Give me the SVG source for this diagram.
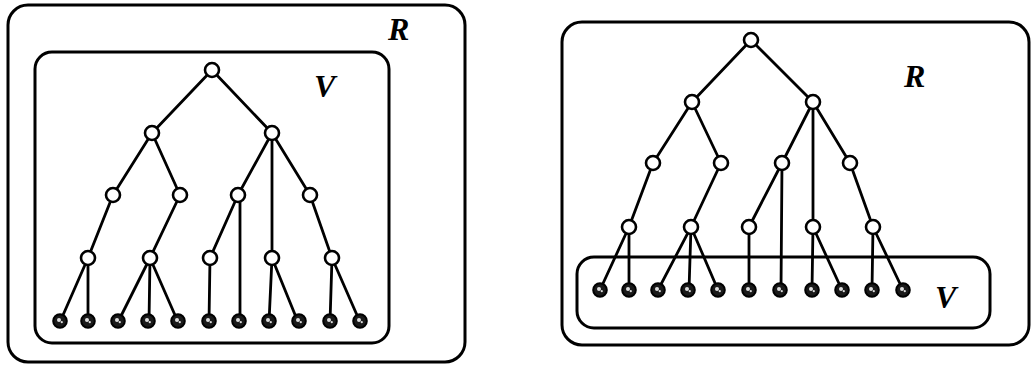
<svg xmlns="http://www.w3.org/2000/svg" width="1032" height="367" viewBox="0 0 1032 367">
  <style>
    .box { fill: none; stroke: #000; stroke-width: 3; }
    .edge { stroke: #000; stroke-width: 2.8; stroke-linecap: round; }
    .node { fill: #fff; stroke: #000; stroke-width: 2.6; }
    .leaf { fill: #1a1a1a; stroke: #000; stroke-width: 2; }
    .speck { fill: #ddd; }
    .lbl { font-family: "Liberation Serif", "Times New Roman", serif; font-style: italic; font-weight: bold; font-size: 32px; fill: #000; }
  </style>
  <defs>
    <g id="leafGlyph">
      <circle class="leaf" cx="0" cy="0" r="6.8"/>
      <circle class="speck" cx="-1" cy="-1" r="2"/>
      <circle class="speck" cx="1.8" cy="1.2" r="1.1"/>
    </g>
  </defs>

  <!-- Left figure: V encloses the whole tree -->
  <g id="left-R"><rect class="box" x="8" y="5" width="457" height="357" rx="20"/><text class="lbl" x="388" y="40">R</text></g>
  <g id="left-V"><rect class="box" x="35" y="52" width="354" height="291" rx="17"/><text class="lbl" x="314" y="97">V</text></g>

  <g id="left-edges">
    <line class="edge" x1="212" y1="70" x2="152" y2="133"/>
    <line class="edge" x1="212" y1="70" x2="272" y2="133"/>
    <line class="edge" x1="152" y1="133" x2="113" y2="195"/>
    <line class="edge" x1="152" y1="133" x2="180" y2="195"/>
    <line class="edge" x1="272" y1="133" x2="238" y2="195"/>
    <line class="edge" x1="272" y1="133" x2="272" y2="258"/>
    <line class="edge" x1="272" y1="133" x2="310" y2="195"/>
    <line class="edge" x1="113" y1="195" x2="88" y2="258"/>
    <line class="edge" x1="180" y1="195" x2="150" y2="258"/>
    <line class="edge" x1="238" y1="195" x2="210" y2="258"/>
    <line class="edge" x1="240" y1="195" x2="240" y2="322"/>
    <line class="edge" x1="310" y1="195" x2="332" y2="258"/>
    <line class="edge" x1="88" y1="258" x2="60" y2="322"/>
    <line class="edge" x1="88" y1="258" x2="88" y2="322"/>
    <line class="edge" x1="150" y1="258" x2="118" y2="322"/>
    <line class="edge" x1="150" y1="258" x2="149" y2="322"/>
    <line class="edge" x1="150" y1="258" x2="178" y2="322"/>
    <line class="edge" x1="210" y1="258" x2="209" y2="322"/>
    <line class="edge" x1="272" y1="258" x2="269" y2="322"/>
    <line class="edge" x1="272" y1="258" x2="298" y2="322"/>
    <line class="edge" x1="332" y1="258" x2="330" y2="322"/>
    <line class="edge" x1="332" y1="258" x2="360" y2="322"/>
  </g>

  <g id="left-nodes">
    <circle class="node" cx="212" cy="70" r="7"/>
    <circle class="node" cx="152" cy="133" r="7"/>
    <circle class="node" cx="272" cy="133" r="7"/>
    <circle class="node" cx="113" cy="195" r="7"/>
    <circle class="node" cx="180" cy="195" r="7"/>
    <circle class="node" cx="238" cy="195" r="7"/>
    <circle class="node" cx="310" cy="195" r="7"/>
    <circle class="node" cx="88" cy="258" r="7"/>
    <circle class="node" cx="150" cy="258" r="7"/>
    <circle class="node" cx="210" cy="258" r="7"/>
    <circle class="node" cx="272" cy="258" r="7"/>
    <circle class="node" cx="332" cy="258" r="7"/>
  </g>
  <g id="left-leaves">
    <use href="#leafGlyph" x="60" y="321"/>
    <use href="#leafGlyph" x="88" y="321"/>
    <use href="#leafGlyph" x="118" y="321"/>
    <use href="#leafGlyph" x="148" y="321"/>
    <use href="#leafGlyph" x="178" y="321"/>
    <use href="#leafGlyph" x="209" y="321"/>
    <use href="#leafGlyph" x="239" y="321"/>
    <use href="#leafGlyph" x="269" y="321"/>
    <use href="#leafGlyph" x="299" y="321"/>
    <use href="#leafGlyph" x="330" y="321"/>
    <use href="#leafGlyph" x="360" y="321"/>
  </g>

  <!-- Right figure: V encloses only the leaves -->
  <g id="right-R"><rect class="box" x="562" y="22" width="467" height="323" rx="20"/><text class="lbl" x="904" y="87">R</text></g>
  <g id="right-V"><rect class="box" x="577" y="257" width="413" height="71" rx="17"/><text class="lbl" x="935" y="308">V</text></g>

  <g id="right-edges">
    <line class="edge" x1="751" y1="40" x2="692" y2="102"/>
    <line class="edge" x1="751" y1="40" x2="813" y2="102"/>
    <line class="edge" x1="692" y1="102" x2="653" y2="163"/>
    <line class="edge" x1="692" y1="102" x2="721" y2="163"/>
    <line class="edge" x1="813" y1="102" x2="782" y2="163"/>
    <line class="edge" x1="813" y1="102" x2="813" y2="227"/>
    <line class="edge" x1="813" y1="102" x2="850" y2="163"/>
    <line class="edge" x1="653" y1="163" x2="629" y2="227"/>
    <line class="edge" x1="721" y1="163" x2="691" y2="227"/>
    <line class="edge" x1="782" y1="163" x2="749" y2="227"/>
    <line class="edge" x1="782" y1="163" x2="781" y2="290"/>
    <line class="edge" x1="850" y1="163" x2="873" y2="227"/>
    <line class="edge" x1="629" y1="227" x2="600" y2="290"/>
    <line class="edge" x1="629" y1="227" x2="629" y2="290"/>
    <line class="edge" x1="691" y1="227" x2="658" y2="290"/>
    <line class="edge" x1="691" y1="227" x2="689" y2="290"/>
    <line class="edge" x1="691" y1="227" x2="718" y2="290"/>
    <line class="edge" x1="749" y1="227" x2="749" y2="290"/>
    <line class="edge" x1="813" y1="227" x2="812" y2="290"/>
    <line class="edge" x1="813" y1="227" x2="842" y2="290"/>
    <line class="edge" x1="873" y1="227" x2="872" y2="290"/>
    <line class="edge" x1="873" y1="227" x2="903" y2="290"/>
  </g>

  <g id="right-nodes">
    <circle class="node" cx="751" cy="40" r="7"/>
    <circle class="node" cx="692" cy="102" r="7"/>
    <circle class="node" cx="813" cy="102" r="7"/>
    <circle class="node" cx="653" cy="163" r="7"/>
    <circle class="node" cx="721" cy="163" r="7"/>
    <circle class="node" cx="782" cy="163" r="7"/>
    <circle class="node" cx="850" cy="163" r="7"/>
    <circle class="node" cx="629" cy="227" r="7"/>
    <circle class="node" cx="691" cy="227" r="7"/>
    <circle class="node" cx="749" cy="227" r="7"/>
    <circle class="node" cx="813" cy="227" r="7"/>
    <circle class="node" cx="873" cy="227" r="7"/>
  </g>
  <g id="right-leaves">
    <use href="#leafGlyph" x="600" y="290"/>
    <use href="#leafGlyph" x="629" y="290"/>
    <use href="#leafGlyph" x="658" y="290"/>
    <use href="#leafGlyph" x="688" y="290"/>
    <use href="#leafGlyph" x="718" y="290"/>
    <use href="#leafGlyph" x="749" y="290"/>
    <use href="#leafGlyph" x="780" y="290"/>
    <use href="#leafGlyph" x="812" y="290"/>
    <use href="#leafGlyph" x="842" y="290"/>
    <use href="#leafGlyph" x="872" y="290"/>
    <use href="#leafGlyph" x="903" y="290"/>
  </g>
</svg>
